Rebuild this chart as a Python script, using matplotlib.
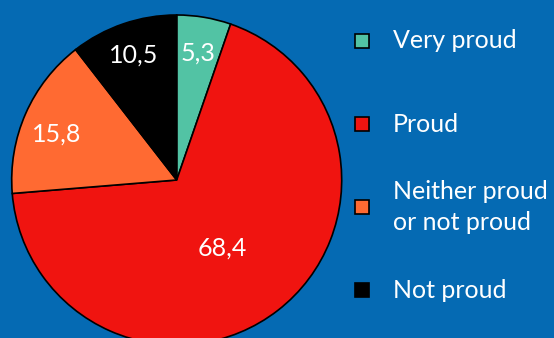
import numpy as np
import matplotlib.pyplot as plt
from matplotlib.patches import Rectangle

plt.rcParams['font.family'] = ['Lato', 'DejaVu Sans']

categories = ['Very proud', 'Proud', 'Neither proud\nor not proud', 'Not proud']
values = [5.3, 68.4, 15.8, 10.5]
value_labels = ['5,3', '68,4', '15,8', '10,5']
colors = ['#52C3A4', '#F01410', '#FF6A32', '#000000']
bg = '#056AB3'

W, H = 554, 338
fig = plt.figure(figsize=(W / 100, H / 100), dpi=100, facecolor=bg)

# pie circle: centre (177, 180) px from top-left, radius 165 px
cx, cy, r = 176.7, 180, 165
ax = fig.add_axes([(cx - r) / W, (H - cy - r) / H, 2 * r / W, 2 * r / H])
ax.set_facecolor(bg)
wedges, _ = ax.pie(values, colors=colors, startangle=90, counterclock=False,
                   wedgeprops=dict(edgecolor='black', linewidth=1.2))
ax.set_aspect('auto')
ax.set_xlim(-1, 1)
ax.set_ylim(-1, 1)

# value labels placed along each wedge's mid angle
dists = [0.78, 0.5, 0.78, 0.8]
shifts = [0, -4, 3, 0]
for w, lab, d, s in zip(wedges, value_labels, dists, shifts):
    ang = np.deg2rad((w.theta1 + w.theta2) / 2 + s)
    ax.text(d * np.cos(ang), d * np.sin(ang), lab, color='white',
            fontsize=18, ha='center', va='center')

# legend drawn by hand so rows sit evenly spaced
for i, (cat, col) in enumerate(zip(categories, colors)):
    y = 41 + 83 * i
    fig.patches.append(Rectangle(((362 - 7) / W, (H - y - 7) / H), 14 / W, 14 / H,
                                 transform=fig.transFigure, facecolor=col,
                                 edgecolor='black', linewidth=1.2))
    fig.text(393 / W, (H - y) / H, cat, color='white', fontsize=18,
             ha='left', va='center', linespacing=1.45)

fig.savefig('out.png', dpi=100, facecolor=bg)
